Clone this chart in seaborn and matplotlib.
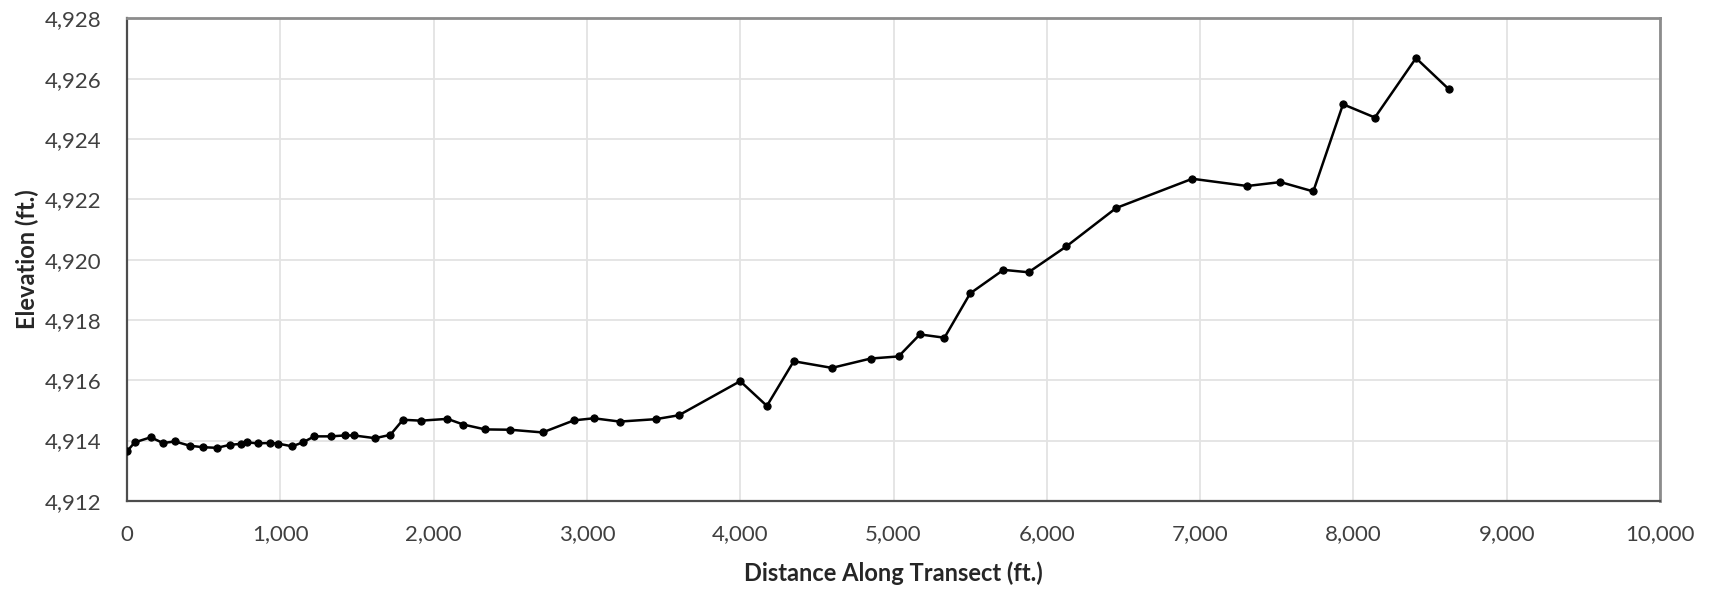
import matplotlib
matplotlib.use("Agg")
import matplotlib.pyplot as plt
import seaborn as sns
import pandas as pd
from matplotlib.ticker import FuncFormatter, MultipleLocator

distance_ft = [0, 50, 155, 234, 314, 409, 496, 586, 673, 741, 781, 853, 935, 985,
               1077, 1147, 1222, 1329, 1419, 1481, 1618, 1718, 1800, 1918, 2090,
               2195, 2337, 2499, 2711, 2915, 3045, 3214, 3449, 3600, 4000, 4174,
               4349, 4598, 4851, 5033, 5172, 5332, 5500, 5717, 5881, 6128, 6452,
               6949, 7307, 7524, 7738, 7932, 8140, 8408, 8622]
elevation_ft = [4913.64, 4913.94, 4914.11, 4913.92, 4913.97, 4913.83, 4913.78,
                4913.76, 4913.86, 4913.89, 4913.94, 4913.91, 4913.92, 4913.90,
                4913.81, 4913.94, 4914.14, 4914.14, 4914.17, 4914.17, 4914.08,
                4914.19, 4914.69, 4914.66, 4914.72, 4914.53, 4914.37, 4914.36,
                4914.27, 4914.67, 4914.74, 4914.63, 4914.71, 4914.84, 4915.97,
                4915.15, 4916.63, 4916.41, 4916.72, 4916.79, 4917.52, 4917.41,
                4918.88, 4919.66, 4919.58, 4920.44, 4921.71, 4922.68, 4922.44,
                4922.57, 4922.26, 4925.15, 4924.71, 4926.68, 4925.65]

x_label = "Distance Along Transect (ft.)"
y_label = "Elevation (ft.)"

df = pd.DataFrame({"distance": distance_ft, "elevation": elevation_ft})

sns.set_theme(style="white")
plt.rcParams["font.family"] = ["Lato", "DejaVu Sans"]

fig = plt.figure(figsize=(17.16, 5.90), dpi=100)
ax = fig.add_axes([0.0740, 0.151, 0.8934, 0.818])

sns.lineplot(data=df, x="distance", y="elevation", ax=ax, color="black",
             linewidth=1.8, marker="o", markersize=5.2, markeredgecolor="black",
             markerfacecolor="black", zorder=3)

ax.set_xlim(0, 10000)
ax.set_ylim(4912, 4928)
ax.xaxis.set_major_locator(MultipleLocator(1000))
ax.yaxis.set_major_locator(MultipleLocator(2))
ax.xaxis.set_major_formatter(FuncFormatter(lambda v, p: f"{int(round(v)):,}"))
ax.yaxis.set_major_formatter(FuncFormatter(lambda v, p: f"{int(round(v)):,}"))

ax.grid(True, color="#e3e3e3", linewidth=1.3)
ax.set_axisbelow(True)

for side in ["left", "bottom"]:
    ax.spines[side].set_color("#4d4d4d")
    ax.spines[side].set_linewidth(1.6)
for side in ["top", "right"]:
    ax.spines[side].set_color("#8c8c8c")
    ax.spines[side].set_linewidth(2.0)

ax.tick_params(axis="both", length=0, labelsize=16, colors="#404040")
ax.tick_params(axis="x", pad=17)
ax.tick_params(axis="y", pad=18.5)

ax.set_xlabel(x_label, fontsize=17, fontweight="bold", color="#262626", labelpad=12)
ax.set_ylabel(y_label, fontsize=17, fontweight="bold", color="#262626", labelpad=4)

fig.savefig("out.png", dpi=100, facecolor="white")
